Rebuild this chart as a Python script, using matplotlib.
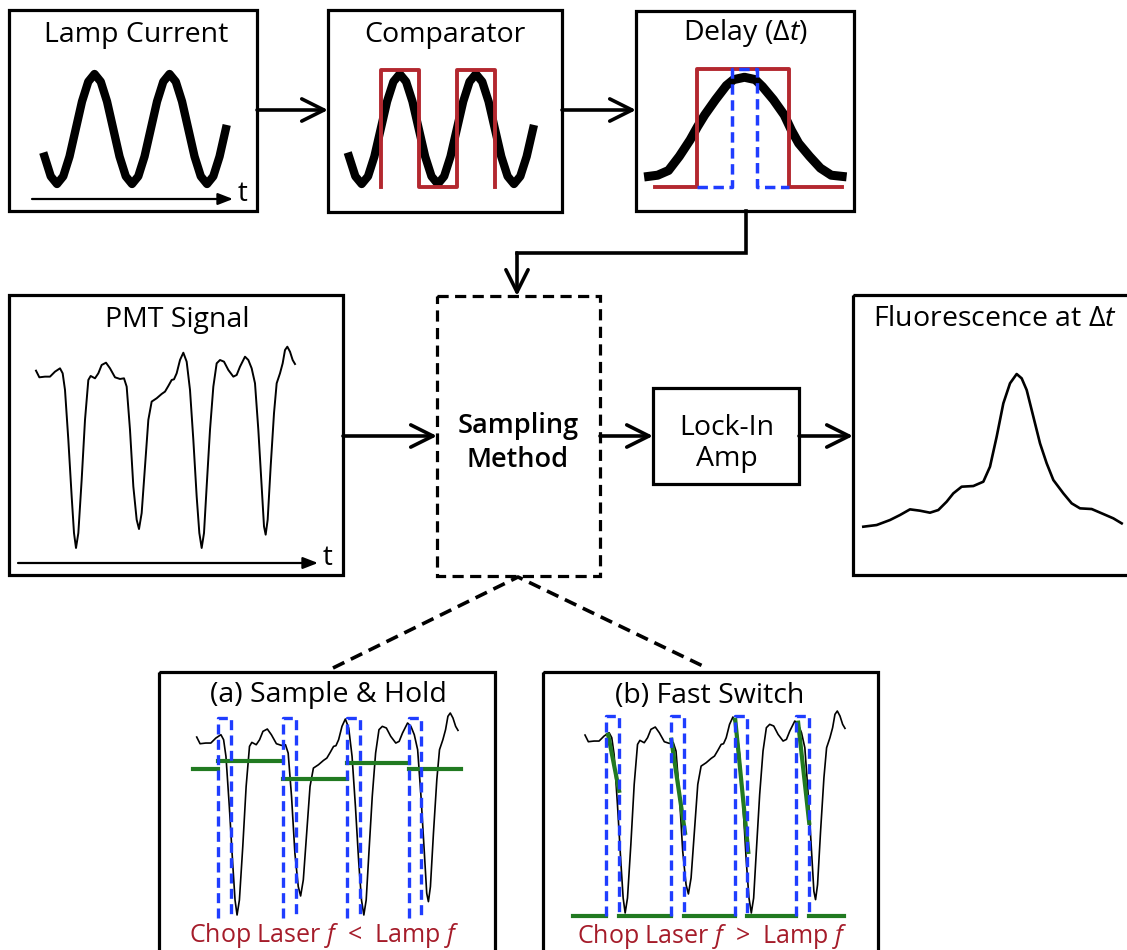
import matplotlib.pyplot as plt
from matplotlib.patches import Rectangle

plt.rcParams['font.family'] = ['Open Sans', 'DejaVu Sans']
plt.rcParams['mathtext.fontset'] = 'custom'
plt.rcParams['mathtext.rm'] = 'Open Sans'
plt.rcParams['mathtext.it'] = 'Open Sans:italic'

# ---- data ----
# lamp current (phase in degrees, level 0 = trough, 1 = crest)
lamp_t = [-60, -30, 0, 30, 60, 90, 120, 150, 180, 210, 240, 270, 300, 330, 360,
          390, 420, 450, 480, 510, 540, 570, 600, 630, 660, 690, 720, 750, 780, 810]
lamp_level = [0.25, 0.07, 0.0, 0.07, 0.25, 0.5, 0.75, 0.93, 1.0, 0.93, 0.75, 0.5, 0.25, 0.07, 0.0,
              0.07, 0.25, 0.5, 0.75, 0.93, 1.0, 0.93, 0.75, 0.5, 0.25, 0.07, 0.0, 0.07, 0.25, 0.5]
comparator_high = [(90, 270), (450, 630)]
square_lo, square_hi = -0.03, 1.04

# one lamp cycle seen by the delay stage
delay_t = [0, 25, 55, 85, 115, 135, 155, 185, 215, 235, 265, 295, 315, 345, 375, 395, 415, 445, 475, 505, 535]
delay_level = [0.09, 0.10, 0.14, 0.26, 0.40, 0.51, 0.61, 0.74, 0.86, 0.91, 0.93, 0.91, 0.85, 0.74,
               0.61, 0.48, 0.37, 0.26, 0.16, 0.10, 0.09]
delay_span = (18, 535)
delay_gate = (134, 388)
delay_window = (231, 300)

# PMT signal
pmt_t = [0, 10, 27, 42, 57, 72, 80, 87, 97, 107, 114, 120, 127, 137, 147, 157, 164, 177, 187, 197,
         210, 222, 237, 252, 264, 272, 282, 292, 302, 309, 317, 327, 337, 347, 362, 377, 387, 397,
         407, 414, 422, 432, 442, 452, 462, 472, 482, 490, 497, 504, 512, 522, 532, 542, 552, 564,
         577, 592, 602, 612, 627, 637, 647, 657, 667, 677, 684, 689, 695, 704, 714, 722, 732, 740,
         747, 754, 762, 770, 777]
pmt_v = [533, 513, 515, 515, 530, 540, 525, 475, 325, 155, 45, 0, 45, 205, 385, 505, 517, 510, 525, 550,
         557, 540, 513, 508, 510, 485, 355, 185, 85, 57, 105, 245, 385, 440, 450, 463, 470, 487,
         505, 507, 525, 565, 587, 560, 475, 325, 155, 45, 0, 45, 185, 355, 485, 555, 565, 560,
         535, 515, 520, 545, 575, 565, 540, 495, 355, 185, 65, 40, 85, 245, 405, 495, 525, 555,
         595, 605, 590, 565, 553]

# chopper pulses (same time axis as the PMT signal)
pulse_on = [63, 258, 447, 630]
pulse_off = [102, 296, 485, 668]
pulse_hi, pulse_lo = 590, -8

# (a) sample & hold levels
hold_edges = [-11, 63, 258, 447, 630, 786]
hold_v = [437, 461, 407, 455, 437]

# (b) fast switch: baseline and sampled slopes
fast_span = (-36, 774)
fast_base = -10
slope_t0 = [69, 258, 449, 637]
slope_v0 = [534, 519, 579, 570]
slope_t1 = [102, 299, 488, 670]
slope_v1 = [366, 240, 183, 270]

# fluorescence vs delay
fluor_t = [0, 40, 80, 110, 140, 170, 200, 225, 250, 270, 295, 330, 360, 380, 400, 420, 440, 460,
           475, 490, 510, 530, 550, 570, 600, 625, 650, 685, 720, 750, 775]
fluor_v = [0, 5, 20, 35, 52, 48, 42, 50, 75, 100, 120, 122, 135, 180, 270, 370, 430, 458,
           445, 410, 330, 250, 190, 140, 100, 70, 55, 53, 38, 25, 10]

# ---- layout ----
W, H = 1127, 950
RED = '#b3282f'
TXTRED = '#a51c2a'
BLUE = '#1f3dff'
GREEN = '#217a21'
DASH = (0, (3.5, 2))

fig = plt.figure(figsize=(W / 100, H / 100), dpi=100)
ax = fig.add_axes([0, 0, 1, 1])
ax.set_xlim(0, W)
ax.set_ylim(H, 0)
ax.axis('off')


def box(x0, y0, x1, y1, ls='-'):
    ax.add_patch(Rectangle((x0, y0), x1 - x0, y1 - y0, fill=False, ec='black', lw=2.3, ls=ls))


def arrow(x0, y0, x1, y1):
    ax.annotate('', xy=(x1, y1), xytext=(x0, y0),
                arrowprops=dict(arrowstyle='->,head_length=0.8,head_width=0.4', lw=2.6,
                                color='black', shrinkA=0, shrinkB=0, mutation_scale=20))


def taxis(x0, x1, y, tx):
    ax.annotate('', xy=(x1, y), xytext=(x0, y),
                arrowprops=dict(arrowstyle='-|>,head_length=0.9,head_width=0.35', lw=1.6,
                                color='black', shrinkA=0, shrinkB=0, mutation_scale=10))
    ax.text(tx, y + 2, 't', ha='center', va='baseline', fontsize=20)


def panel(x0, x1, ybot, ytop, tlim, vlim):
    a = fig.add_axes([x0 / W, 1 - ybot / H, (x1 - x0) / W, (ybot - ytop) / H])
    a.set_xlim(*tlim)
    a.set_ylim(*vlim)
    a.axis('off')
    return a


def pulses(a):
    for on, off in zip(pulse_on, pulse_off):
        a.plot([on, on, off, off], [pulse_lo, pulse_hi, pulse_hi, pulse_lo], color=BLUE,
               lw=2.4, ls=(0, (3, 1.6)), clip_on=False, zorder=4)


# boxes
box(9, 10, 257, 211)
box(328, 10, 562, 212)
box(636, 11, 854, 211)
box(9, 295, 343, 575)
box(437, 296, 600, 576, ls=DASH)
box(653, 388, 799, 484)
box(853, 295, 1135, 575)
box(159, 672, 495, 970)
box(543, 672, 878, 970)

# arrows
arrow(257, 110, 328, 110)
arrow(562, 110, 636, 110)
ax.plot([746, 746, 517], [211, 253, 253], color='black', lw=2.6, solid_joinstyle='miter')
arrow(517, 253, 517, 296)
arrow(343, 436, 437, 436)
arrow(600, 436, 653, 436)
arrow(799, 436, 853, 436)
ax.plot([333, 518, 707], [668, 577, 668], color='black', lw=2.6, ls=DASH)

taxis(32, 233, 199, 243)
taxis(18, 318, 563, 328)

# titles
fs = 20.5
ax.text(136, 42, 'Lamp Current', ha='center', va='baseline', fontsize=fs)
ax.text(445, 42, 'Comparator', ha='center', va='baseline', fontsize=fs)
ax.text(745, 40, r'Delay ($\Delta\mathit{t}$)', ha='center', va='baseline', fontsize=fs)
ax.text(177, 327, 'PMT Signal', ha='center', va='baseline', fontsize=fs)
ax.text(518, 433, 'Sampling', ha='center', va='baseline', fontsize=19.5, fontweight='semibold')
ax.text(518, 467, 'Method', ha='center', va='baseline', fontsize=19.5, fontweight='semibold')
ax.text(727, 435, 'Lock-In', ha='center', va='baseline', fontsize=fs)
ax.text(727, 466, 'Amp', ha='center', va='baseline', fontsize=fs)
ax.text(995, 326, r'Fluorescence at $\Delta\mathit{t}$', ha='center', va='baseline', fontsize=fs)
ax.text(328, 702, '(a) Sample & Hold', ha='center', va='baseline', fontsize=fs)
ax.text(710, 703, '(b) Fast Switch', ha='center', va='baseline', fontsize=fs)
ax.text(324, 942, r'Chop Laser $f$  <  Lamp $f$', ha='center', va='baseline', fontsize=18, color=TXTRED)
ax.text(712, 943, r'Chop Laser $f$  >  Lamp $f$', ha='center', va='baseline', fontsize=18, color=TXTRED)

# lamp current
a = panel(44.5, 225.8, 184, 74, (-60, 810), (0, 1))
a.plot(lamp_t, lamp_level, color='black', lw=6, clip_on=False)

# comparator
a = panel(349, 533, 184, 74, (-60, 810), (0, 1))
a.plot(lamp_t, lamp_level, color='black', lw=6, clip_on=False)
sx, sy = [], []
for on, off in comparator_high:
    sx += [on, on, off, off]
    sy += [square_lo, square_hi, square_hi, square_lo]
a.plot(sx, sy, color=RED, lw=2.8, clip_on=False)

# delay
a = panel(648.6, 842.1, 187, 69, (0, 535), (0, 1))
a.plot(delay_t, delay_level, color='black', lw=6.5, clip_on=False)
a.plot([delay_span[0], delay_gate[0], delay_gate[0], delay_gate[1], delay_gate[1], delay_span[1]],
       [0, 0, 1, 1, 0, 0], color=RED, lw=2.8, clip_on=False)
a.plot([delay_gate[0], delay_window[0], delay_window[0], delay_window[1], delay_window[1], delay_gate[1]],
       [0, 0, 1, 1, 0, 0], color=BLUE, lw=2.5, ls=(0, (3, 1.6)), clip_on=False)

# PMT signal
a = panel(36, 295, 548, 346.7, (0, 777), (0, 605))
a.plot(pmt_t, pmt_v, color='black', lw=1.4, clip_on=False)

# (a) sample & hold
a = panel(196.7, 458, 915, 713, (0, 777), (0, 605))
a.plot(pmt_t, pmt_v, color='black', lw=1.2, clip_on=False)
for i, v in enumerate(hold_v):
    a.plot([hold_edges[i], hold_edges[i + 1]], [v, v], color=GREEN, lw=3, clip_on=False, zorder=3)
pulses(a)

# (b) fast switch
a = panel(585, 845, 913, 711, (0, 777), (0, 605))
a.plot(pmt_t, pmt_v, color='black', lw=1.2, clip_on=False)
edges = [fast_span[0]] + [e for pair in zip(pulse_on, pulse_off) for e in pair] + [fast_span[1]]
for i in range(0, len(edges), 2):
    a.plot([edges[i], edges[i + 1]], [fast_base, fast_base], color=GREEN, lw=3, clip_on=False, zorder=3)
for t0, v0, t1, v1 in zip(slope_t0, slope_v0, slope_t1, slope_v1):
    a.plot([t0, t1], [v0, v1], color=GREEN, lw=3, clip_on=False, zorder=3)
pulses(a)

# fluorescence
a = panel(863.3, 1121.7, 526.7, 374, (0, 775), (0, 458))
a.plot(fluor_t, fluor_v, color='black', lw=1.9, clip_on=False)

fig.savefig('out.png', dpi=100)
